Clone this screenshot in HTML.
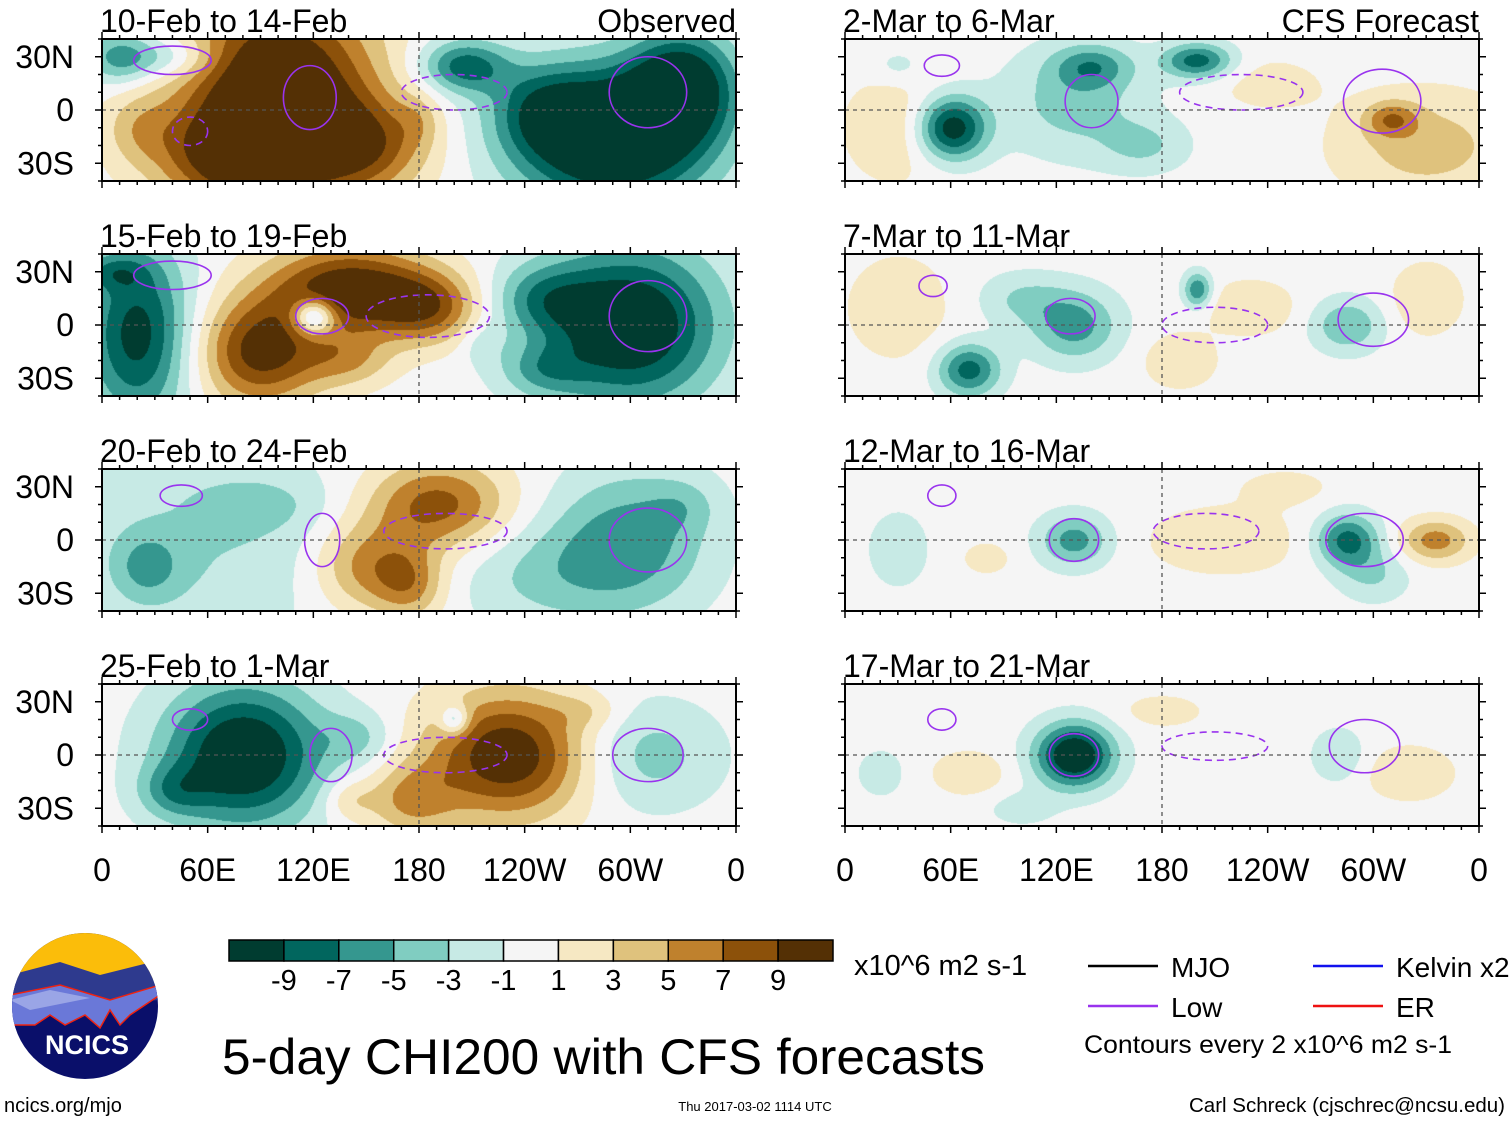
<!DOCTYPE html>
<html><head><meta charset="utf-8">
<style>
body{margin:0;background:#fff;width:1510px;height:1121px;overflow:hidden;position:relative;font-family:"Liberation Sans",sans-serif}
canvas{position:absolute}
svg{position:absolute;left:0;top:0}
</style></head>
<body>
<div>
<canvas id="c0"></canvas>
<canvas id="c1"></canvas>
<canvas id="c2"></canvas>
<canvas id="c3"></canvas>
<canvas id="c4"></canvas>
<canvas id="c5"></canvas>
<canvas id="c6"></canvas>
<canvas id="c7"></canvas>
<svg id="ov" width="1510" height="1121"></svg>
</div>
<script>
const panelTitles=["10-Feb to 14-Feb","15-Feb to 19-Feb","20-Feb to 24-Feb","25-Feb to 1-Mar","2-Mar to 6-Mar","7-Mar to 11-Mar","12-Mar to 16-Mar","17-Mar to 21-Mar"];
const lonTicks=[0,60,120,180,240,300,360];
const lonLabels=["0","60E","120E","180","120W","60W","0"];
const latTicks=[30,0,-30];
const latLabels=["30N","0","30S"];
const levelLabels=["-9","-7","-5","-3","-1","1","3","5","7","9"];
const levelColors=["#003c30","#01665e","#35978f","#80cdc1","#c7eae5","#f5f5f5","#f6e8c3","#dfc27d","#bf812d","#8c510a","#543005"];
// blobs: [lon, lat, value, lonRadius, latRadius]
const blobs0=[[100,5,14,55,60],[70,-25,6,40,25],[150,-20,6,35,25],[20,-10,3,20,20],[10,30,-6,20,15],[40,30,-4,25,12],[205,25,-8,25,15],[290,-15,-14,55,40],[330,15,-10,30,30],[250,0,-5,30,25],[180,-5,2,12,15]];
const blobs1=[[20,-5,-10,30,50],[5,30,-4,20,10],[90,-15,10,35,30],[140,20,11,45,25],[185,10,7,30,20],[120,5,-10,12,10],[140,-20,4,25,15],[300,0,-12,50,45],[250,15,-5,30,20],[250,-25,-4,25,15],[215,-10,-2,12,12]];
const blobs2=[[60,0,-3,80,60],[300,0,-6,45,40],[250,-20,-3,50,30],[190,20,8,40,25],[150,-15,6,30,25],[175,-25,5,20,20],[25,-15,-4,20,20],[90,20,-2,35,15],[330,20,-2,20,15]];
const blobs3=[[80,0,-12,45,40],[40,-20,-4,20,15],[145,10,-3,20,15],[230,0,11,45,35],[175,-25,5,25,20],[200,20,-6,8,8],[140,-25,3,15,12],[310,0,-4,40,30],[275,25,2,20,10]];
const blobs4=[[60,-10,-11,20,18],[130,5,-4,40,30],[140,25,-5,22,12],[200,28,-8,20,10],[330,-20,4,50,30],[310,-5,5,15,10],[30,-10,3,30,30],[240,15,2,30,15],[170,-20,-3,25,15],[30,25,-2,15,10]];
const blobs5=[[70,-25,-8,18,15],[130,0,-6,25,20],[200,20,-7,8,10],[230,10,3,25,15],[190,-20,3,20,15],[285,0,-5,20,15],[30,10,2.5,30,30],[100,15,-3,25,15],[330,15,3,20,20]];
const blobs6=[[215,0,2.5,45,20],[130,0,-6,20,15],[285,0,-8,18,15],[335,0,6,20,12],[30,-5,-2,20,25],[80,-10,2,15,10],[300,-20,-3,20,15],[250,30,2,25,10]];
const blobs7=[[130,0,-12,22,18],[70,-10,3,20,12],[180,25,2,25,10],[320,-10,3,25,15],[280,0,-3,15,15],[100,-30,-2,20,10],[20,-10,-2,15,15]];
const allBlobs=[blobs0,blobs1,blobs2,blobs3,blobs4,blobs5,blobs6,blobs7];
// contours: [lon, lat, lonRadius, latRadius, dashed]
const contours=[
 [[40,28,22,8,0],[118,7,15,18,0],[310,10,22,20,0],[50,-12,10,8,1],[200,10,30,10,1]],
 [[40,28,22,8,0],[125,5,15,10,0],[310,5,22,20,0],[185,5,35,12,1]],
 [[45,25,12,6,0],[125,0,10,15,0],[310,0,22,18,0],[195,5,35,10,1]],
 [[50,20,10,6,0],[130,0,12,15,0],[310,0,20,15,0],[195,0,35,10,1]],
 [[55,25,10,6,0],[140,5,15,15,0],[305,5,22,18,0],[225,10,35,10,1]],
 [[50,22,8,6,0],[128,5,14,10,0],[300,3,20,15,0],[210,0,30,10,1]],
 [[55,25,8,6,0],[130,0,14,12,0],[295,0,22,15,0],[205,5,30,10,1]],
 [[55,20,8,6,0],[130,0,14,12,0],[295,5,20,15,0],[210,5,30,8,1]]
];
const PW=634,PH=142;
const rowTops=[39,254,469,684];
const colLefts=[102,845];
function panelPos(i){return {x:colLefts[i<4?0:1],y:rowTops[i%4]};}
function xs(lon){return lon/360*PW;}
function ys(lat){return (40-lat)/80*PH;}
function levelIndex(f){if(f<-9)return 0;if(f>=9)return 10;return Math.floor((f+9)/2)+1;}
function hex(c){return [parseInt(c.substr(1,2),16),parseInt(c.substr(3,2),16),parseInt(c.substr(5,2),16)];}
const rgb=levelColors.map(hex);
const NS="http://www.w3.org/2000/svg";
const ov=document.getElementById('ov');
function el(t,a,p){const e=document.createElementNS(NS,t);for(const k in a)e.setAttribute(k,a[k]);(p||ov).appendChild(e);return e;}
for(let i=0;i<8;i++){
 const p=panelPos(i);const cv=document.getElementById('c'+i);
 cv.width=PW;cv.height=PH;cv.style.left=p.x+'px';cv.style.top=p.y+'px';
 const ctx=cv.getContext('2d');const img=ctx.createImageData(PW,PH);
 const B=allBlobs[i];
 for(let py=0;py<PH;py++){const lat=40-py/PH*80;
  for(let px=0;px<PW;px++){const lon=px/PW*360;let f=0;
   for(const b of B){const dl=(lon-b[0])/b[3],db=(lat-b[1])/b[4];f+=b[2]*Math.exp(-(dl*dl+db*db));}
   const c=rgb[levelIndex(f)];const k=(py*PW+px)*4;img.data[k]=c[0];img.data[k+1]=c[1];img.data[k+2]=c[2];img.data[k+3]=255;}}
 ctx.putImageData(img,0,0);
 const g=el('g',{transform:`translate(${p.x},${p.y})`});
 
 
 for(const c of contours[i]){const e=el('ellipse',{cx:xs(c[0]),cy:ys(c[1]),rx:xs(c[2]),ry:c[3]/80*PH,fill:'none',stroke:'#9933ee','stroke-width':1.6},g);
  if(c[4])e.setAttribute('stroke-dasharray','7,5');
  
  }
 el('line',{x1:0,x2:PW,y1:ys(0),y2:ys(0),stroke:'#555','stroke-dasharray':'4,4','stroke-width':1.3},g);
 el('line',{x1:xs(180),x2:xs(180),y1:0,y2:PH,stroke:'#555','stroke-dasharray':'4,4','stroke-width':1.3},g);
 el('rect',{x:0,y:0,width:PW,height:PH,fill:'none',stroke:'#000','stroke-width':2},g);
 for(let l=0;l<=360;l+=10){const big=l%60==0;
  el('line',{x1:xs(l),x2:xs(l),y1:PH,y2:PH+(big?7:4),stroke:'#000','stroke-width':1.5},g);
  el('line',{x1:xs(l),x2:xs(l),y1:0,y2:-(big?7:4),stroke:'#000','stroke-width':1.5},g);}
 for(let a=-40;a<=40;a+=10){const big=a%30==0;
  el('line',{x1:0,x2:-(big?7:4),y1:ys(a),y2:ys(a),stroke:'#000','stroke-width':1.5},g);
  el('line',{x1:PW,x2:PW+(big?7:4),y1:ys(a),y2:ys(a),stroke:'#000','stroke-width':1.5},g);}
 const t=el('text',{x:-2,y:-7,'font-size':32},g);t.textContent=panelTitles[i];
 
 
 if(i==0||i==4){const r=el('text',{x:PW,y:-7,'font-size':32,'text-anchor':'end'},g);r.textContent=i==0?'Observed':'CFS Forecast';
  
  }
 if(i<4){latTicks.forEach((a,j)=>{const tt=el('text',{x:-28,y:ys(a)+11,'font-size':32,'text-anchor':'end'},g);tt.textContent=latLabels[j];
  
  });}
 if(i%4==3){lonTicks.forEach((l,j)=>{const tt=el('text',{x:xs(l),y:PH+55,'font-size':32,'text-anchor':'middle'},g);tt.textContent=lonLabels[j];
  
  });}
}
const cb=el('g',{});


const cbx=229,cbw=604/11;
levelColors.forEach((c,j)=>{el('rect',{x:cbx+j*cbw,y:940,width:cbw,height:21,fill:c,stroke:'#000','stroke-width':1.5},cb);});
levelLabels.forEach((s,j)=>{const t=el('text',{x:cbx+(j+1)*cbw,y:990,'font-size':29,'text-anchor':'middle'},cb);t.textContent=s;});
const u=el('text',{x:854,y:975,'font-size':29});u.textContent='x10^6 m2 s-1';


const title=el('text',{x:222,y:1074,'font-size':50,textLength:763,lengthAdjust:'spacingAndGlyphs'});title.textContent='5-day CHI200 with CFS forecasts';


const lg=el('g',{});


[['MJO','#000',1088,966],['Low','#9933ee',1088,1006],['Kelvin x2','#1111ee',1313,966],['ER','#ee1111',1313,1006]].forEach(d=>{
 el('line',{x1:d[2],x2:d[2]+70,y1:d[3],y2:d[3],stroke:d[1],'stroke-width':2.5},lg);
 const t=el('text',{x:d[2]+83,y:d[3]+11,'font-size':28},lg);t.textContent=d[0];});
const ce=el('text',{x:1084,y:1053,'font-size':25,textLength:368,lengthAdjust:'spacingAndGlyphs'});ce.textContent='Contours every 2 x10^6 m2 s-1';


const au=el('text',{x:1189,y:1112,'font-size':20,textLength:316,lengthAdjust:'spacingAndGlyphs'});au.textContent='Carl Schreck (cjschrec@ncsu.edu)';


const dt=el('text',{x:755,y:1111,'font-size':13,'text-anchor':'middle'});dt.textContent='Thu 2017-03-02 1114 UTC';


const ur=el('text',{x:4,y:1112,'font-size':20});ur.textContent='ncics.org/mjo';


const lo=el('g',{});


el('clipPath',{id:'lc'},lo);el('circle',{cx:85,cy:1006,r:73},document.getElementById('lc'));
const lg2=el('g',{'clip-path':'url(#lc)'},lo);
el('rect',{x:10,y:930,width:150,height:160,fill:'#0a0f6a'},lg2);
el('rect',{x:10,y:930,width:150,height:50,fill:'#fbbd0a'},lg2);
el('polygon',{points:'10,975 60,962 100,975 160,960 160,1000 10,1010',fill:'#2e3a8e'},lg2);
el('polygon',{points:'10,995 60,985 110,1000 160,985 160,995 130,1015 120,1025 110,1010 100,1028 85,1015 65,1025 50,1015 35,1025 10,1025',fill:'#6a78d8',stroke:'#e21',"stroke-width":1.5},lg2);
el('polygon',{points:'10,1000 50,990 90,998 30,1010',fill:'#9aa5e6'},lg2);
const nt=el('text',{x:87,y:1054,'font-size':27,'font-weight':'bold',fill:'#fff','text-anchor':'middle'},lo);nt.textContent='NCICS';
</script>
</body></html>
